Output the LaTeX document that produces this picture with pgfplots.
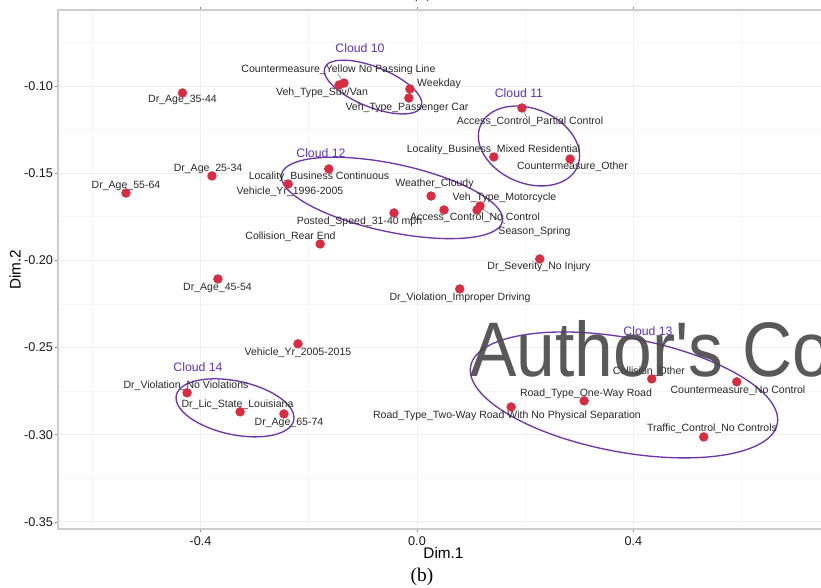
\documentclass[border=0pt]{standalone}
\usepackage{fontspec}
\setmainfont{Liberation Sans}
\newfontfamily\seriffont{Liberation Serif}
\usepackage{pgfplots}
\pgfplotsset{compat=1.18}
\definecolor{ptred}{RGB}{216,44,66}
\definecolor{ellc}{RGB}{114,52,170}
\definecolor{cloudc}{RGB}{88,52,196}
\definecolor{labc}{RGB}{40,40,40}
\pgfplotstableread{
x y
-0.4335 -0.1040
-0.1350 -0.0983
-0.1440 -0.0994
-0.0130 -0.1017
-0.0150 -0.1069
0.1940 -0.1126
0.1420 -0.1407
0.2830 -0.1419
-0.1630 -0.1476
-0.2380 -0.1562
-0.3790 -0.1516
-0.5380 -0.1614
0.0260 -0.1631
0.1165 -0.1688
0.1109 -0.1711
0.0500 -0.1711
-0.0425 -0.1728
-0.1790 -0.1906
0.2270 -0.1992
-0.3680 -0.2107
0.0790 -0.2164
-0.2200 -0.2479
-0.4250 -0.2760
-0.3270 -0.2869
-0.2460 -0.2881
0.4340 -0.2680
0.5910 -0.2697
0.3090 -0.2806
0.1740 -0.2841
0.5300 -0.3013
}\pts
\begin{document}
\begin{tikzpicture}[lbl/.style={font=\fontsize{7.9}{8}\selectfont, text=labc, inner sep=0pt},
  cld/.style={font=\fontsize{9.2}{10}\selectfont, text=cloudc, inner sep=0pt}]
\useasboundingbox (-43.5pt,-44.25pt) rectangle (572.25pt,396.75pt);
\begin{axis}[
  at={(0,0)}, anchor=south west,
  scale only axis, width=578.25pt, height=389.25pt,
  xmin=-0.6636, xmax=0.7616, ymin=-0.3541, ymax=-0.0564,
  xtick={-0.4,0,0.4}, xticklabels={-0.4,0.0,0.4},
  ytick={-0.35,-0.30,-0.25,-0.20,-0.15,-0.10},
  yticklabels={-0.35,-0.30,-0.25,-0.20,-0.15,-0.10},
  minor xtick={-0.6,-0.2,0.2,0.6},
  minor ytick={-0.325,-0.275,-0.225,-0.175,-0.125,-0.075},
  grid=both,
  major grid style={black!6, line width=0.7pt},
  minor grid style={black!3, line width=0.5pt},
  axis line style={black!20, line width=0.8pt},
  tick style={black!45, line width=0.5pt},
  tick align=outside, major tick length=2.2pt, minor tick length=0pt,
  ticklabel style={font=\fontsize{9.5}{10}\selectfont, text=black!90},
  yticklabel style={xshift=2pt},
  /pgf/number format/assume math mode=true,
  clip=false,
]
\addplot[only marks, mark=*, mark size=3.3pt, color=ptred] table {\pts};
% ellipses
\draw[ellc, line width=1pt, rotate around={-22:(axis cs:-0.0813,-0.1006)}] (axis cs:-0.0813,-0.1006) ellipse [x radius=39pt, y radius=15pt];
\draw[ellc, line width=1pt, rotate around={-23:(axis cs:0.207,-0.1344)}] (axis cs:0.207,-0.1344) ellipse [x radius=39.5pt, y radius=27.9pt];
\draw[ellc, line width=1pt, rotate around={-12:(axis cs:-0.0462,-0.1642)}] (axis cs:-0.0462,-0.1642) ellipse [x radius=84.75pt, y radius=25.5pt];
\draw[ellc, line width=1pt, rotate around={-12:(axis cs:-0.3364,-0.2846)}] (axis cs:-0.3364,-0.2846) ellipse [x radius=45pt, y radius=20.1pt];
\draw[ellc, line width=1pt, rotate around={-10.6:(axis cs:0.3826,-0.2772)}] (axis cs:0.3826,-0.2772) ellipse [x radius=117pt, y radius=42.75pt];
% leader segments
\draw[black!55, line width=0.4pt] (axis cs:0.118,-0.1700) -- (axis cs:0.163,-0.1791);
\draw[black!55, line width=0.4pt] (axis cs:0.196,-0.1140) -- (axis cs:0.203,-0.1180);
\draw[black!55, line width=0.4pt] (axis cs:-0.140,-0.0960) -- (axis cs:-0.146,-0.0930);
% labels
\node[lbl] at (axis cs:-0.4335,-0.1080) {Dr\_Age\_35-44};
\node[lbl] at (axis cs:-0.1451,-0.0908) {Countermeasure\_Yellow No Passing Line};
\node[lbl] at (axis cs:-0.1756,-0.1040) {Veh\_Type\_Suv/Van};
\node[lbl] at (axis cs:0.0407,-0.0989) {Weekday};
\node[lbl] at (axis cs:-0.0185,-0.1126) {Veh\_Type\_Passenger Car};
\node[lbl] at (axis cs:0.2089,-0.1206) {Access\_Control\_Partial Control};
\node[lbl] at (axis cs:0.1414,-0.1367) {Locality\_Business\_Mixed Residential};
\node[lbl] at (axis cs:0.2874,-0.1464) {Countermeasure\_Other};
\node[lbl] at (axis cs:-0.1811,-0.1522) {Locality\_Business Continuous};
\node[lbl] at (axis cs:-0.2348,-0.1608) {Vehicle\_Yr\_1996-2005};
\node[lbl] at (axis cs:-0.3863,-0.1476) {Dr\_Age\_25-34};
\node[lbl] at (axis cs:-0.5379,-0.1573) {Dr\_Age\_55-64};
\node[lbl] at (axis cs:0.0323,-0.1562) {Weather\_Cloudy};
\node[lbl] at (axis cs:0.1617,-0.1642) {Veh\_Type\_Motorcycle};
\node[lbl] at (axis cs:0.1072,-0.1757) {Access\_Control\_No Control};
\node[lbl] at (axis cs:0.2172,-0.1837) {Season\_Spring};
\node[lbl] at (axis cs:-0.1063,-0.1780) {Posted\_Speed\_31-40 mph};
\node[lbl] at (axis cs:-0.2338,-0.1866) {Collision\_Rear End};
\node[lbl] at (axis cs:0.2255,-0.2038) {Dr\_Severity\_No Injury};
\node[lbl] at (axis cs:-0.3688,-0.2158) {Dr\_Age\_45-54};
\node[lbl] at (axis cs:0.0795,-0.2216) {Dr\_Violation\_Improper Driving};
\node[lbl] at (axis cs:-0.2200,-0.2531) {Vehicle\_Yr\_2005-2015};
\node[lbl] at (axis cs:-0.4270,-0.2720) {Dr\_Violation\_No Violations};
\node[lbl] at (axis cs:-0.3318,-0.2829) {Dr\_Lic\_State\_Louisiana};
\node[lbl] at (axis cs:-0.2366,-0.2932) {Dr\_Age\_65-74};
\node[lbl] at (axis cs:0.4288,-0.2640) {Collision\_Other};
\node[lbl] at (axis cs:0.5933,-0.2749) {Countermeasure\_No Control};
\node[lbl] at (axis cs:0.3124,-0.2766) {Road\_Type\_One-Way Road};
\node[lbl] at (axis cs:0.1664,-0.2892) {Road\_Type\_Two-Way Road With No Physical Separation};
\node[lbl] at (axis cs:0.5453,-0.2967) {Traffic\_Control\_No Controls};
% cloud labels
\node[cld] at (axis cs:-0.1054,-0.0782) {Cloud 10};
\node[cld] at (axis cs:0.1885,-0.1040) {Cloud 11};
\node[cld] at (axis cs:-0.1775,-0.1384) {Cloud 12};
\node[cld] at (axis cs:0.4270,-0.2405) {Cloud 13};
\node[cld] at (axis cs:-0.4048,-0.2611) {Cloud 14};
\end{axis}
\node[font=\fontsize{11.5}{12}\selectfont, inner sep=0pt] at (289.1pt,-18pt) {Dim.1};
\node[font=\fontsize{11.5}{12}\selectfont, inner sep=0pt, rotate=90] at (-32.25pt,194.6pt) {Dim.2};
\node[font=\seriffont\fontsize{14.5}{15}\selectfont, inner sep=0pt] at (273pt,-36pt) {(b)};
\node[font=\seriffont\fontsize{14.5}{15}\selectfont, inner sep=0pt] at (273pt,402pt) {(a)};
\node[font=\fontsize{58}{59}\selectfont, text=black!72, text opacity=0.9, anchor=base west, inner sep=0pt] at (309pt,114pt) {\scalebox{0.9}[1]{Author\textquotesingle s Copy}};
\end{tikzpicture}
\end{document}
